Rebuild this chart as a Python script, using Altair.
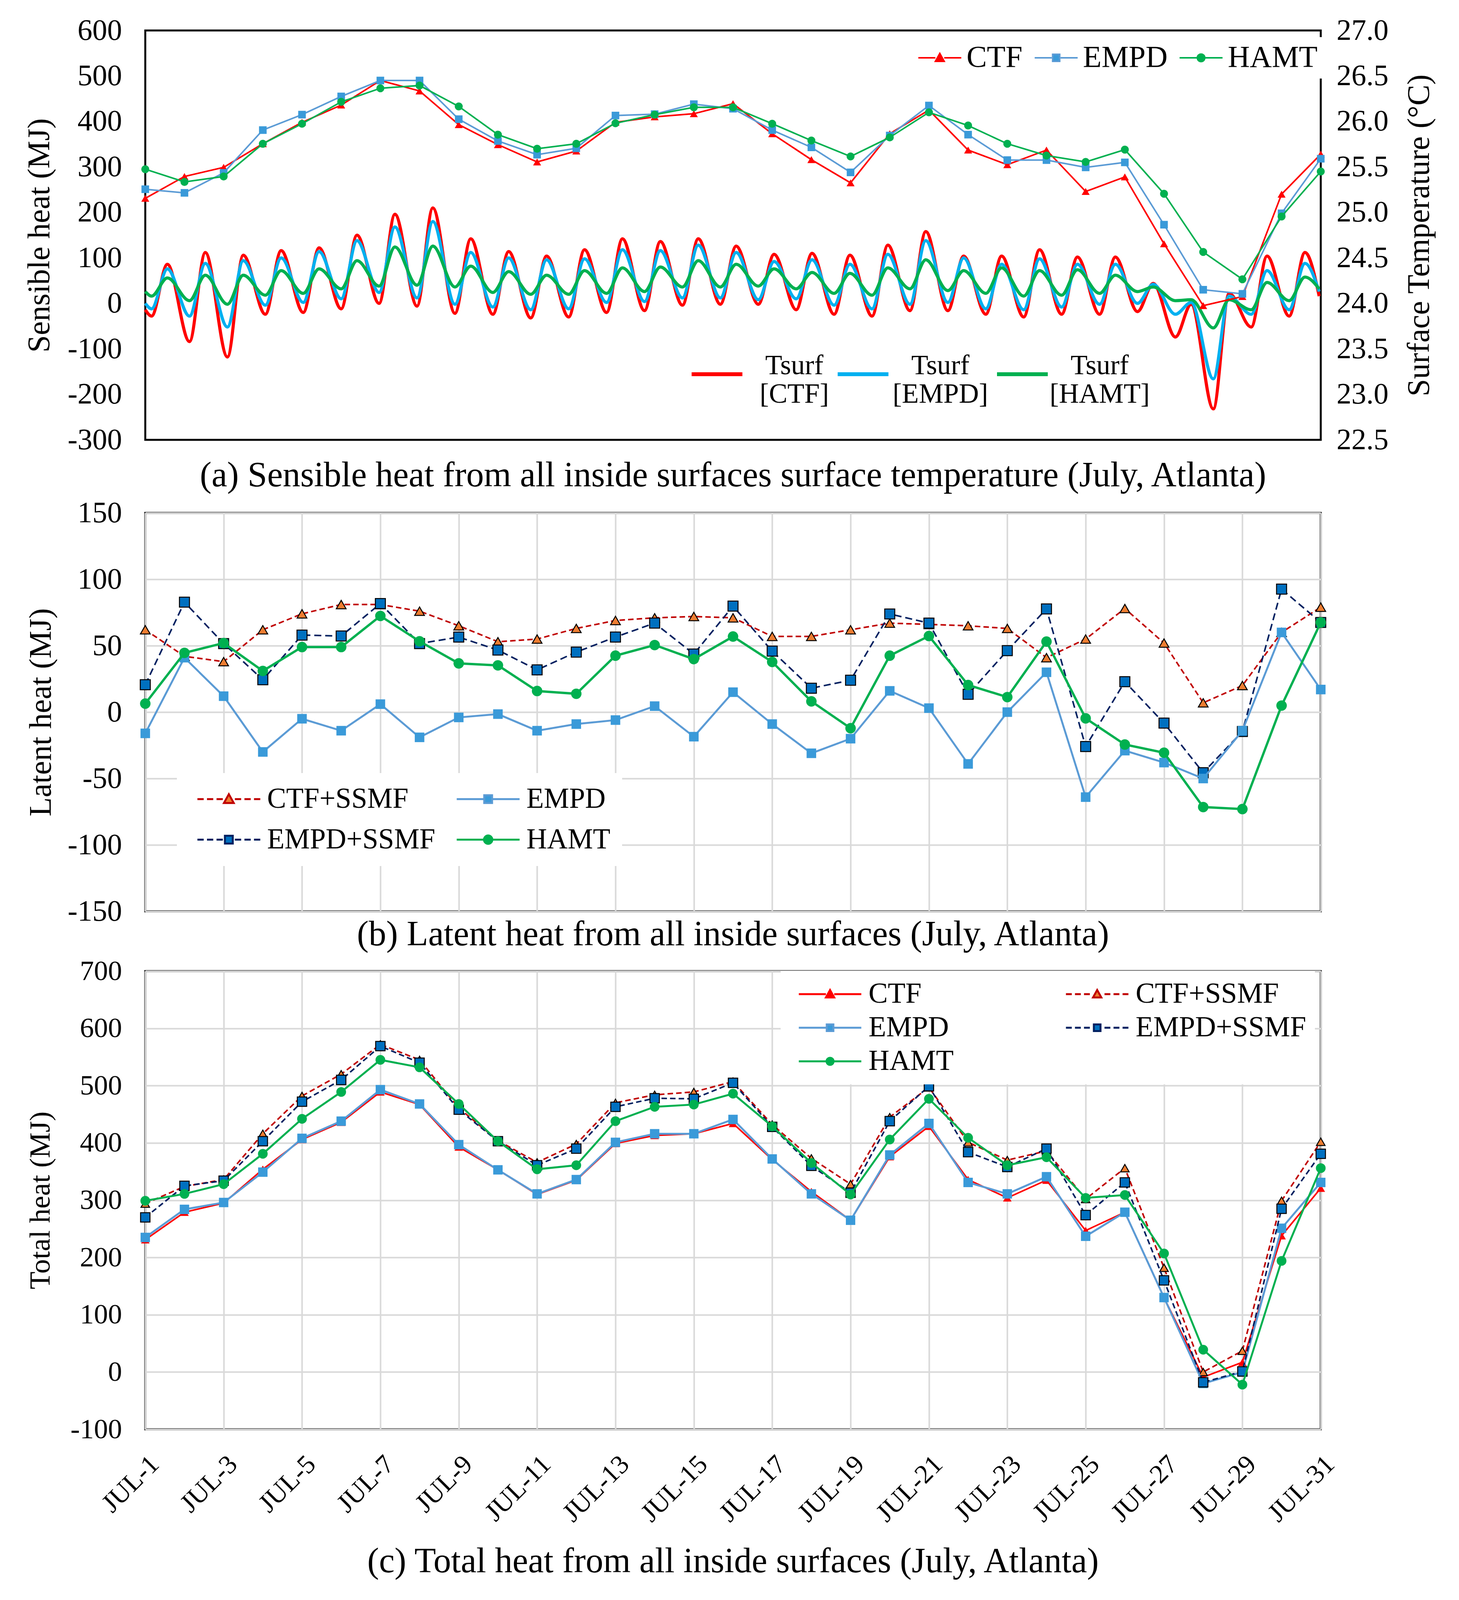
import json
import altair as alt
import pandas as pd

FONT = "Liberation Serif"

# ---------------- shared x ----------------
DAYS = list(range(1, 32))
X_TICKS = [1, 3, 5, 7, 9, 11, 13, 15, 17, 19, 21, 23, 25, 27, 29, 31]
X_TICK_LABELS = ["JUL-1", "JUL-3", "JUL-5", "JUL-7", "JUL-9", "JUL-11", "JUL-13", "JUL-15",
                 "JUL-17", "JUL-19", "JUL-21", "JUL-23", "JUL-25", "JUL-27", "JUL-29", "JUL-31"]

# ---------------- (a) sensible heat, daily (MJ) ----------------
SENS_CTF = [231, 279, 299, 351, 398, 436, 490, 467, 393, 349, 311, 335, 398, 410, 417, 439,
            373, 316, 265, 373, 425, 337, 305, 337, 246, 278, 131, -5, 15, 240, 328]
SENS_EMPD = [251, 243, 287, 381, 415, 455, 490, 490, 405, 357, 327, 341, 413, 416, 438, 428,
             381, 343, 288, 369, 435, 371, 315, 315, 299, 310, 173, 30, 21, 198, 318]
SENS_HAMT = [295, 267, 279, 351, 395, 443, 473, 479, 433, 371, 340, 351, 396, 415, 431, 431,
             395, 358, 323, 365, 420, 391, 351, 325, 311, 338, 241, 113, 53, 191, 290]
A_Y_TICKS = [-300, -200, -100, 0, 100, 200, 300, 400, 500, 600]

# ---------------- (a) surface temperature, hourly (deg C) ----------------
# daily early-morning minimum (hour 4) and afternoon maximum (hour 14)
TSURF_TROUGH_HOUR = 4
TSURF_PEAK_HOUR = 14
TSURF_CTF_START = 23.93
TSURF_CTF_TROUGH = [23.86, 23.58, 23.41, 23.88, 23.90, 23.94, 24.00, 23.97, 23.89, 23.88, 23.84,
                    23.85, 23.90, 23.92, 23.98, 23.99, 23.99, 23.93, 23.88, 23.86, 23.92, 23.92,
                    23.88, 23.85, 23.88, 23.88, 23.91, 23.63, 22.84, 23.74, 23.86]
TSURF_CTF_PEAK = [24.43, 24.56, 24.53, 24.58, 24.61, 24.75, 24.98, 25.05, 24.71, 24.57, 24.52,
                  24.59, 24.71, 24.68, 24.71, 24.63, 24.54, 24.55, 24.53, 24.64, 24.79, 24.52,
                  24.52, 24.59, 24.51, 24.51, 24.22, 23.99, 24.11, 24.52, 24.56]
TSURF_CTF_END = 24.08
TSURF_EMPD_START = 24.00
TSURF_EMPD_TROUGH = [23.94, 23.86, 23.74, 23.98, 24.01, 24.05, 24.12, 24.06, 23.99, 23.96, 23.93,
                     23.94, 24.01, 24.02, 24.06, 24.06, 24.04, 24.05, 23.98, 23.94, 23.99, 24.01,
                     23.94, 23.93, 23.96, 23.99, 24.00, 23.88, 23.17, 23.88, 23.93]
TSURF_EMPD_PEAK = [24.38, 24.44, 24.47, 24.50, 24.57, 24.69, 24.84, 24.90, 24.56, 24.50, 24.48,
                   24.49, 24.59, 24.58, 24.64, 24.56, 24.46, 24.48, 24.43, 24.54, 24.69, 24.50,
                   24.43, 24.49, 24.43, 24.43, 24.21, 24.01, 24.08, 24.36, 24.44]
TSURF_EMPD_END = 24.13
TSURF_HAMT_START = 24.13
TSURF_HAMT_TROUGH = [24.08, 24.03, 23.99, 24.09, 24.11, 24.16, 24.19, 24.20, 24.18, 24.12, 24.10,
                     24.10, 24.11, 24.13, 24.18, 24.18, 24.19, 24.16, 24.11, 24.09, 24.16, 24.14,
                     24.11, 24.08, 24.09, 24.11, 24.13, 24.03, 23.73, 23.93, 24.03]
TSURF_HAMT_PEAK = [24.28, 24.31, 24.31, 24.36, 24.38, 24.47, 24.62, 24.63, 24.41, 24.35, 24.31,
                   24.36, 24.39, 24.40, 24.47, 24.43, 24.38, 24.34, 24.33, 24.39, 24.48, 24.36,
                   24.39, 24.36, 24.37, 24.31, 24.18, 24.04, 24.04, 24.23, 24.29]
TSURF_HAMT_END = 24.16
TEMP_TICKS = [22.5, 23.0, 23.5, 24.0, 24.5, 25.0, 25.5, 26.0, 26.5, 27.0]

# ---------------- (b) latent heat (MJ) ----------------
LAT_CTF_SSMF = [62, 42, 38, 62, 74, 81, 81, 76, 65, 53, 55, 63, 69, 71, 72, 71,
                57, 57, 62, 67, 66, 65, 63, 41, 55, 78, 52, 7, 20, 60, 79]
LAT_EMPD = [-16, 41, 12, -30, -5, -14, 6, -19, -4, -1.5, -14, -9, -6, 4.5, -18.5, 15,
            -9, -31, -20, 16, 3, -39, 0, 30, -64, -29, -38, -50, -14, 60, 17]
LAT_EMPD_SSMF = [20.6, 82.8, 51.6, 24.4, 58, 57.3, 81.7, 51.6, 56.5, 46.7, 31.8, 45.2, 56.5, 67,
                 43.7, 79.8, 45.9, 18, 24, 73.9, 67, 13.4, 46.3, 77.7, -25.9, 22.9, -8.3, -45.6,
                 -14.6, 92.6, 67.5]
LAT_HAMT = [6.4, 44.6, 52, 31, 49, 49, 72.4, 53.3, 36.7, 35.2, 15.9, 13.8, 42.5, 50.5, 39.9,
            56.9, 37.8, 8.1, -12.1, 42.5, 57.3, 20.4, 11.3, 53.1, -4.7, -24.4, -30.6, -71.5,
            -73, 4.9, 67.5]
B_Y_TICKS = [-150, -100, -50, 0, 50, 100, 150]

# ---------------- (c) total heat (MJ) ----------------
TOT_CTF = [231, 279, 295, 354, 406, 436, 489, 467, 393, 353, 310, 335, 399, 413, 416, 434,
           371, 315, 265, 376, 429, 336, 304, 335, 247, 279, 130, -9, 17, 238, 321]
TOT_CTF_SSMF = [294, 324, 336, 416, 482, 520, 572, 545, 461, 404, 366, 398, 470, 484, 489, 507,
                432, 373, 328, 445, 497, 401, 370, 386, 302, 356, 182, 0, 37, 299, 402]
TOT_EMPD = [235, 284, 296, 349, 408, 438, 493, 468, 397, 353, 311, 336, 401, 416, 416, 441,
            372, 311, 265, 379, 434, 331, 311, 341, 237, 279, 130, -20, 0, 251, 331]
TOT_EMPD_SSMF = [270, 325, 334, 403, 472, 510, 569, 540, 458, 403, 361, 390, 463, 478, 477, 505,
                 428, 360, 313, 438, 499, 384, 358, 390, 274, 331, 160, -18, 1, 285, 381]
TOT_HAMT = [299, 311, 328, 381, 442, 489, 545, 532, 468, 403, 354, 361, 438, 463, 467, 486,
            429, 365, 310, 406, 477, 409, 361, 375, 304, 309, 207, 39, -22, 194, 356]
C_Y_TICKS = [-100, 0, 100, 200, 300, 400, 500, 600, 700]

# ---------------- styles ----------------
RED = "#FF0000"
DARKRED = "#C00000"
ORANGE = "#ED7D31"
EMPD_LINE = "#5B9BD5"
EMPD_MARK = "#3A9AD9"
NAVY = "#002060"
BLUE = "#0070C0"
GREEN = "#00B050"
CYAN = "#00B0F0"

PLOT_W = 3010
H_A, H_B, H_C = 1048, 1020, 1173


def legend_symbol(x_end, marker, m, dash=None):
    """Custom legend glyph: a line (optionally dashed) with a marker in the middle."""
    x0 = -1.0
    c = (x0 + x_end) / 2.0
    segs = []

    def add(a, b, reverse=False):
        if dash:
            d, g = dash
            if not reverse:
                x = a
                while x < b - 1e-6:
                    segs.append(f"M{x:.3f},0H{min(x + d, b):.3f}")
                    x += d + g
            else:
                x = b
                while x > a + 1e-6:
                    segs.append(f"M{max(x - d, a):.3f},0H{x:.3f}")
                    x -= d + g
        else:
            segs.append(f"M{a:.3f},0H{b:.3f}")

    add(x0, c - m)
    add(c + m, x_end, reverse=True)
    if marker == "triangle":
        segs.append(f"M{c:.3f},{-m:.3f}L{c + m:.3f},{0.8 * m:.3f}L{c - m:.3f},{0.8 * m:.3f}Z")
    elif marker == "square":
        s = 0.8 * m
        segs.append(f"M{c - s:.3f},{-s:.3f}H{c + s:.3f}V{s:.3f}H{c - s:.3f}Z")
    elif marker == "circle":
        r = 0.85 * m
        segs.append(f"M{c - r:.3f},0A{r:.3f},{r:.3f} 0 1,1 {c + r:.3f},0"
                    f"A{r:.3f},{r:.3f} 0 1,1 {c - r:.3f},0Z")
    return "".join(segs)


def day_x(with_labels):
    if with_labels:
        axis = alt.Axis(values=X_TICKS, title=None,
                        labelExpr=f"{json.dumps(X_TICK_LABELS)}[(datum.value - 1) / 2]",
                        labelAngle=315, labelFontSize=68, labelPadding=55, labelFont=FONT,
                        labelLimit=600)
    else:
        axis = alt.Axis(values=X_TICKS, title=None, labels=False)
    return alt.X("day:Q", scale=alt.Scale(domain=[1, 31], nice=False, zero=False), axis=axis)


def value_y(domain, ticks, title, label_size, title_size, title_pad):
    return alt.Y("value:Q", scale=alt.Scale(domain=domain, nice=False, zero=False),
                 axis=alt.Axis(values=ticks, title=title, labelExpr="datum.value",
                               labelFontSize=label_size, titleFontSize=title_size,
                               labelPadding=60, titlePadding=title_pad))


def daily_layers(values, x, y, line_color, line_width, shape, fill, size,
                 marker_stroke=None, marker_stroke_width=0, dash=None):
    df = pd.DataFrame({"day": DAYS, "value": values})
    base = alt.Chart(df)
    line_kw = dict(color=line_color, strokeWidth=line_width)
    if dash:
        line_kw["strokeDash"] = dash
    line = base.mark_line(**line_kw).encode(x=x, y=y)
    pt_kw = dict(shape=shape, filled=True, fill=fill, size=size, opacity=1)
    if marker_stroke:
        pt_kw.update(stroke=marker_stroke, strokeWidth=marker_stroke_width)
    else:
        pt_kw.update(strokeWidth=0)
    pts = base.mark_point(**pt_kw).encode(x=x, y=y)
    return [line, pts]


def hourly_frame(start, troughs, peaks, end):
    hours, temps = [0], [start]
    for i in range(len(DAYS)):
        hours += [24 * i + TSURF_TROUGH_HOUR, 24 * i + TSURF_PEAK_HOUR]
        temps += [troughs[i], peaks[i]]
    hours.append(24 * len(DAYS) - 1)
    temps.append(end)
    return pd.DataFrame({"hour": hours, "temp": temps})


def symbol_legend(names, paths, fills, strokes, legend, size, stroke_width):
    return alt.Chart(pd.DataFrame({"series": names})).transform_filter("false").mark_point(
        filled=True, opacity=1, size=size, strokeWidth=stroke_width
    ).encode(
        shape=alt.Shape("series:N", scale=alt.Scale(domain=names, range=paths), legend=legend),
        fill=alt.Fill("series:N", scale=alt.Scale(domain=names, range=fills), legend=legend),
        stroke=alt.Stroke("series:N", scale=alt.Scale(domain=names, range=strokes), legend=legend),
    )


def caption(text, offset):
    return alt.TitleParams(text=text, orient="bottom", anchor="middle", frame="group",
                           font=FONT, fontSize=90, fontWeight="normal", color="black",
                           offset=offset)


# ================= panel (a) =================
xa = day_x(False)
ya = value_y([-300, 600], A_Y_TICKS, "Sensible heat (MJ)", 76, 80, 30)
daily_a = []
daily_a += daily_layers(SENS_CTF, xa, ya, RED, 4, "triangle-up", RED, 420)
daily_a += daily_layers(SENS_EMPD, xa, ya, EMPD_LINE, 4, "square", EMPD_MARK, 380)
daily_a += daily_layers(SENS_HAMT, xa, ya, GREEN, 4, "circle", GREEN, 420)

x_hour = alt.X("hour:Q", scale=alt.Scale(domain=[0, 24 * len(DAYS)], nice=False, zero=False),
               axis=None)
y_temp = alt.Y("temp:Q", scale=alt.Scale(domain=[22.5, 27.0], nice=False, zero=False),
               axis=alt.Axis(orient="right", values=TEMP_TICKS, format=".1f", grid=False,
                             title="Surface Temperature (°C)", titleAngle=270,
                             titleBaseline="top", labelFontSize=76, titleFontSize=80,
                             labelPadding=40, titlePadding=40))
hourly_a = [
    alt.Chart(hourly_frame(TSURF_CTF_START, TSURF_CTF_TROUGH, TSURF_CTF_PEAK, TSURF_CTF_END))
    .mark_line(color=RED, strokeWidth=8, interpolate="monotone").encode(x=x_hour, y=y_temp),
    alt.Chart(hourly_frame(TSURF_EMPD_START, TSURF_EMPD_TROUGH, TSURF_EMPD_PEAK, TSURF_EMPD_END))
    .mark_line(color=CYAN, strokeWidth=8, interpolate="monotone").encode(x=x_hour, y=y_temp),
    alt.Chart(hourly_frame(TSURF_HAMT_START, TSURF_HAMT_TROUGH, TSURF_HAMT_PEAK, TSURF_HAMT_END))
    .mark_line(color=GREEN, strokeWidth=8, interpolate="monotone").encode(x=x_hour, y=y_temp),
]

A_NAMES = ["CTF", "EMPD", "HAMT"]
A_PATHS = [legend_symbol(7.8, "triangle", 0.9), legend_symbol(7.8, "square", 0.9),
           legend_symbol(7.8, "circle", 0.9)]
LEG_A = alt.Legend(title=None, orient="none", legendX=1939, legendY=17, direction="horizontal",
                   fillColor="white", padding=14, labelFont=FONT, labelFontSize=78,
                   labelColor="black", labelOffset=72, columnPadding=4,
                   symbolSize=625, symbolStrokeWidth=4, labelLimit=2000, labelBaseline="middle")
legend_a = symbol_legend(A_NAMES, A_PATHS, [RED, EMPD_MARK, GREEN], [RED, EMPD_LINE, GREEN],
                         LEG_A, 625, 4)

TS_NAMES = ["[CTF]", "[EMPD]", "[HAMT]"]
LEG_TS = alt.Legend(title=None, orient="none", legendX=1379, legendY=795, direction="horizontal",
                    fillColor="white", padding=15, labelFont=FONT, labelFontSize=71,
                    labelColor="black", labelOffset=128, columnPadding=2,
                    symbolSize=16900, symbolStrokeWidth=10, symbolType="stroke",
                    labelLimit=2000, labelAlign="center", labelBaseline="alphabetic",
                    labelExpr="['Tsurf', datum.label]")
legend_ts = alt.Chart(pd.DataFrame({"series": TS_NAMES})).transform_filter("false").mark_point(
    shape="stroke", filled=False, opacity=1, strokeWidth=10, size=16900
).encode(color=alt.Color("series:N", scale=alt.Scale(domain=TS_NAMES, range=[RED, CYAN, GREEN]),
                         legend=LEG_TS))

panel_a = alt.layer(
    alt.layer(*hourly_a),
    alt.layer(*daily_a),
    legend_a,
    legend_ts,
).resolve_scale(x="independent", y="independent").properties(
    width=PLOT_W, height=H_A,
    title=caption("(a) Sensible heat from all inside surfaces surface temperature (July, Atlanta)", 10),
)

# ================= panel (b) =================
xb = day_x(False)
yb = value_y([-150, 150], B_Y_TICKS, "Latent heat (MJ)", 76, 80, 26)
layers_b = []
layers_b += daily_layers(LAT_CTF_SSMF, xb, yb, DARKRED, 4, "triangle-up", ORANGE, 620,
                         "black", 2.5, dash=[14, 8])
layers_b += daily_layers(LAT_EMPD_SSMF, xb, yb, NAVY, 4, "square", BLUE, 660,
                         "black", 2.5, dash=[18, 10])
layers_b += daily_layers(LAT_EMPD, xb, yb, EMPD_LINE, 5, "square", EMPD_MARK, 600)
layers_b += daily_layers(LAT_HAMT, xb, yb, GREEN, 6, "circle", GREEN, 720)

B_NAMES = ["CTF+SSMF", "EMPD", "EMPD+SSMF", "HAMT"]
B_PATHS = [legend_symbol(10.5, "triangle", 0.9, dash=(1.15, 0.6)),
           legend_symbol(10.5, "square", 0.9),
           legend_symbol(10.5, "square", 0.9, dash=(1.15, 0.6)),
           legend_symbol(10.5, "circle", 0.9)]
LEG_B = alt.Legend(title=None, orient="none", legendX=81, legendY=666, columns=2,
                   direction="horizontal", fillColor="white", padding=30, labelFont=FONT,
                   labelFontSize=73, labelColor="black", labelOffset=128,
                   columnPadding=32, rowPadding=30, symbolSize=784, symbolStrokeWidth=5,
                   labelLimit=2000, labelBaseline="middle")
legend_b = symbol_legend(B_NAMES, B_PATHS, [ORANGE, EMPD_MARK, BLUE, GREEN],
                         [DARKRED, EMPD_LINE, NAVY, GREEN], LEG_B, 784, 5)

panel_b = alt.layer(*layers_b, legend_b).properties(
    width=PLOT_W, height=H_B,
    title=caption("(b) Latent heat from all inside surfaces (July, Atlanta)", -22),
)

# ================= panel (c) =================
xc = day_x(True)
yc = value_y([-100, 700], C_Y_TICKS, "Total heat (MJ)", 72, 74, 38)
layers_c = []
layers_c += daily_layers(TOT_CTF, xc, yc, RED, 4, "triangle-up", RED, 480)
layers_c += daily_layers(TOT_CTF_SSMF, xc, yc, DARKRED, 4, "triangle-up", ORANGE, 480,
                         "black", 2.5, dash=[14, 8])
layers_c += daily_layers(TOT_EMPD, xc, yc, EMPD_LINE, 5, "square", EMPD_MARK, 580)
layers_c += daily_layers(TOT_EMPD_SSMF, xc, yc, NAVY, 4, "square", BLUE, 580,
                         "black", 2.5, dash=[14, 8])
layers_c += daily_layers(TOT_HAMT, xc, yc, GREEN, 5, "circle", GREEN, 620)

C_NAMES = ["CTF", "CTF+SSMF", "EMPD", "EMPD+SSMF", "HAMT"]
C_PATHS = [legend_symbol(11.8, "triangle", 0.85),
           legend_symbol(11.8, "triangle", 0.85, dash=(1.2, 0.65)),
           legend_symbol(11.8, "square", 0.85),
           legend_symbol(11.8, "square", 0.85, dash=(1.2, 0.65)),
           legend_symbol(11.8, "circle", 0.85)]
LEG_C = alt.Legend(title=None, orient="none", legendX=1627, legendY=0, columns=2,
                   direction="horizontal", fillColor="white", padding=22, labelFont=FONT,
                   labelFontSize=74, labelColor="black", labelOffset=129,
                   columnPadding=263, rowPadding=12, symbolSize=625, symbolStrokeWidth=5,
                   labelLimit=2000, labelBaseline="middle")
legend_c = symbol_legend(C_NAMES, C_PATHS, [RED, ORANGE, EMPD_MARK, BLUE, GREEN],
                         [RED, DARKRED, EMPD_LINE, NAVY, GREEN], LEG_C, 625, 5)

panel_c = alt.layer(*layers_c, legend_c).properties(
    width=PLOT_W, height=H_C,
    title=caption("(c) Total heat from all inside surfaces (July, Atlanta)", 45),
)

chart = alt.vconcat(panel_a, panel_b, panel_c, spacing=6).resolve_scale(
    shape="independent", fill="independent", stroke="independent", color="independent"
).properties(
    padding={"left": 51, "top": 29, "right": 5, "bottom": 5}
).configure(
    font=FONT
).configure_view(
    stroke="black", strokeWidth=5
).configure_axis(
    grid=True, gridColor="#D9D9D9", gridWidth=4, ticks=False, domain=False,
    labelFont=FONT, titleFont=FONT, labelColor="black", titleColor="black",
    titleFontWeight="normal"
).configure_legend(
    labelFont=FONT
)

chart.save("out.html", embed_options={"renderer": "svg", "actions": False})
